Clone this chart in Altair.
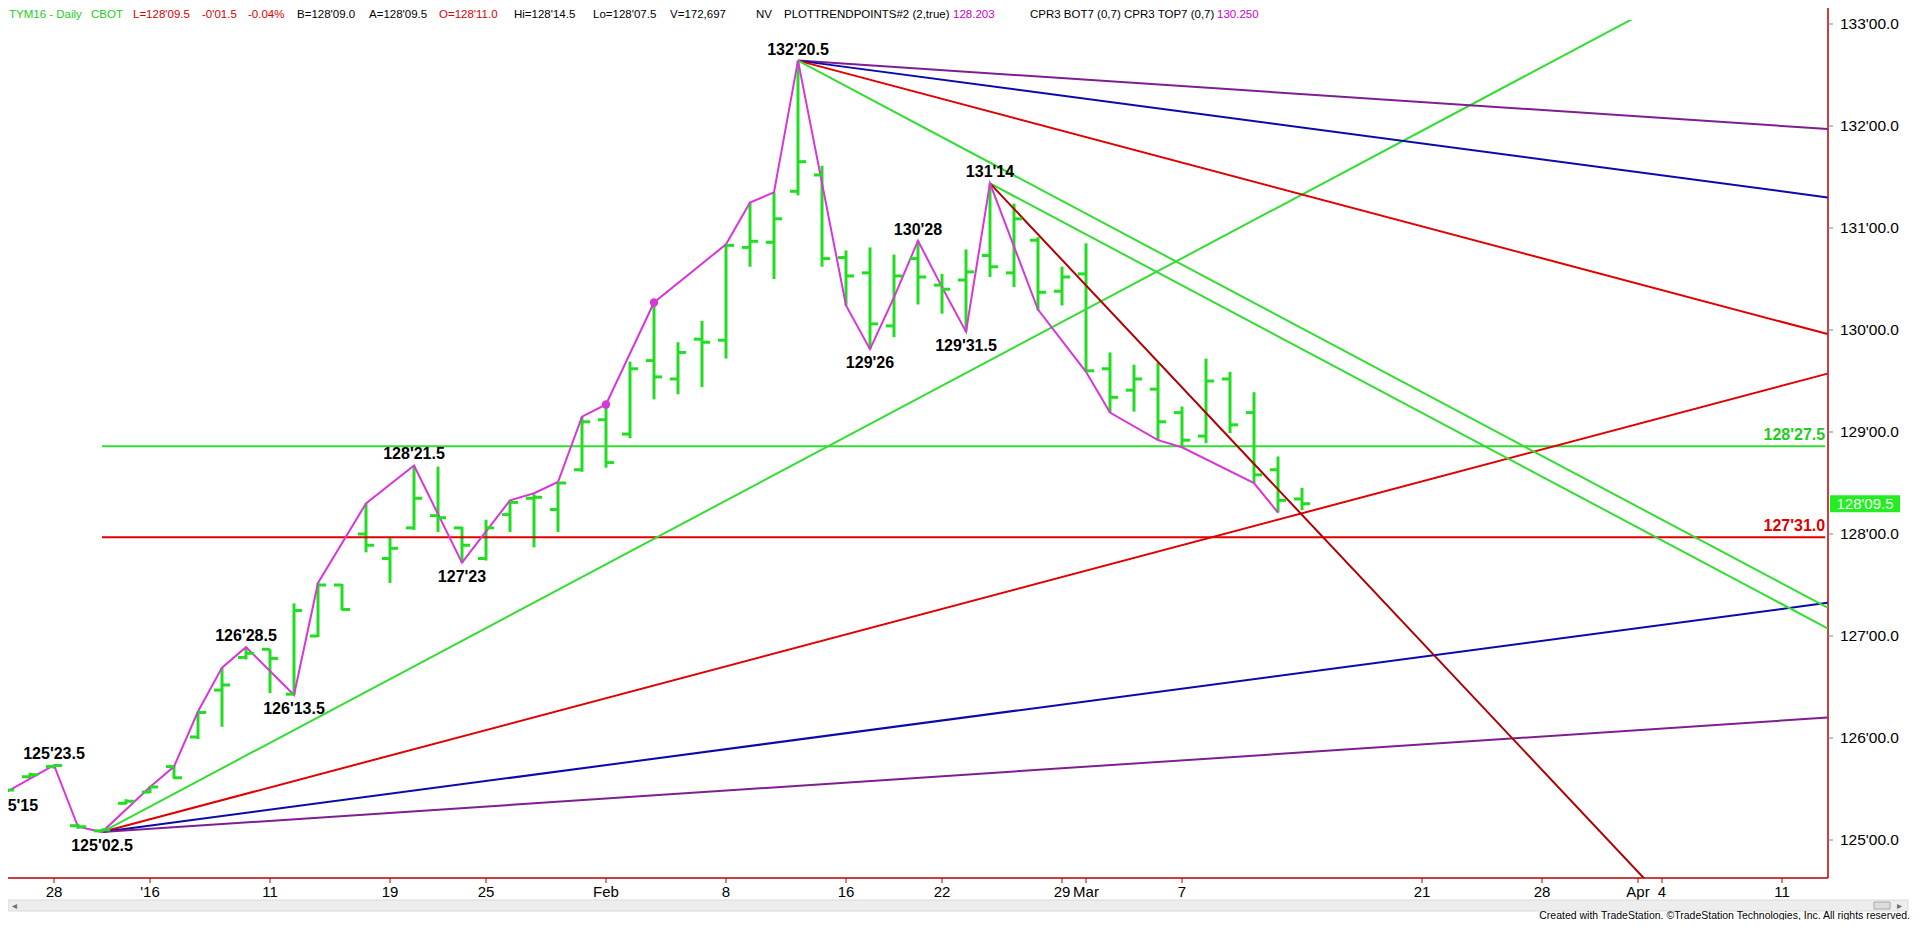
import altair as alt
import pandas as pd

# ---------------- data ----------------
# trading days; bar index 0 = 2015-12-28
dates = ["2015-12-23", "2015-12-24", "2015-12-28", "2015-12-29", "2015-12-30", "2015-12-31",
         "2016-01-04", "2016-01-05", "2016-01-06", "2016-01-07", "2016-01-08",
         "2016-01-11", "2016-01-12", "2016-01-13", "2016-01-14", "2016-01-15",
         "2016-01-19", "2016-01-20", "2016-01-21", "2016-01-22",
         "2016-01-25", "2016-01-26", "2016-01-27", "2016-01-28", "2016-01-29",
         "2016-02-01", "2016-02-02", "2016-02-03", "2016-02-04", "2016-02-05",
         "2016-02-08", "2016-02-09", "2016-02-10", "2016-02-11", "2016-02-12",
         "2016-02-16", "2016-02-17", "2016-02-18", "2016-02-19",
         "2016-02-22", "2016-02-23", "2016-02-24", "2016-02-25", "2016-02-26",
         "2016-02-29", "2016-03-01", "2016-03-02", "2016-03-03", "2016-03-04",
         "2016-03-07", "2016-03-08", "2016-03-09", "2016-03-10", "2016-03-11",
         "2016-03-14"]
first_index = -2

opens = [125.48, 125.62, 125.72, 125.14, 125.09, 125.36, 125.47, 125.72, 126.01, 126.47,
         126.79, 126.87, 126.43, 127.00, 127.50, 128.00, 127.76, 128.06, 128.18, 128.06,
         127.76, 128.19, 128.35, 128.24, 128.63, 129.12, 128.98, 129.70, 129.52, 129.91,
         129.90, 130.81, 130.86, 131.36, 131.52, 130.71, 130.56, 130.04, 130.70, 130.44,
         130.49, 130.73, 130.56, 130.88, 130.38, 130.55, 129.62, 129.41, 129.42, 129.19,
         128.96, 129.52, 129.19, 128.63, 128.34375]
highs = [125.51, 125.66, 125.734, 125.16, 125.11, 125.40, 125.53, 125.73, 126.26, 126.69,
         126.891, 126.87, 127.32, 127.52, 127.51, 128.30, 127.96, 128.672, 128.66, 128.07,
         128.14, 128.33, 128.39, 128.51, 129.15, 129.27, 129.69, 130.27, 129.88, 130.09,
         130.84, 131.25, 131.35, 132.641, 131.61, 130.78, 130.81, 130.74, 130.875, 130.55,
         130.79, 131.4375, 131.24, 130.91, 130.62, 130.85, 129.78, 129.66, 129.68, 129.25,
         129.72, 129.59, 129.39, 128.76, 128.453125]
lows = [125.469, 125.61, 125.70, 125.11, 125.078, 125.35, 125.46, 125.60, 125.99, 126.11,
        126.77, 126.44, 126.422, 126.99, 127.25, 127.82, 127.52, 128.04, 128.02, 127.719,
        127.74, 128.02, 127.87, 128.02, 128.61, 128.65, 128.94, 129.32, 129.37, 129.44,
        129.72, 130.62, 130.50, 131.32, 130.62, 130.24, 129.8125, 129.93, 130.25, 130.16,
        129.984, 130.52, 130.42, 130.19, 130.24, 129.59, 129.19, 129.20, 128.92, 128.85,
        128.89, 128.99, 128.50, 128.21, 128.234375]
closes = [125.49, 125.64, 125.73, 125.13, 125.10, 125.38, 125.52, 125.61, 126.25, 126.52,
          126.83, 126.78, 127.25, 127.50, 127.26, 127.89, 127.86, 128.35, 128.16, 127.89,
          128.06, 128.31, 128.36, 128.50, 129.10, 128.70, 129.62, 129.54, 129.78, 129.88,
          130.83, 130.87, 131.09, 131.65, 130.70, 130.53, 130.06, 130.53, 130.52, 130.40,
          130.57, 130.62, 131.09, 130.37, 130.52, 129.60, 129.34, 129.52, 129.10, 128.92,
          129.50, 129.07, 128.58, 128.33, 128.296875]

# swing (trend point) line
swing_idx = [-2, 0, 1, 2, 4, 5, 6, 7, 8, 10, 11, 13, 15, 17, 19, 20, 21, 22, 23, 25,
             28, 29, 30, 31, 33, 34, 35, 36, 37, 38, 39, 41, 43, 44, 46, 47, 50, 51]
swing_price = [125.469, 125.734, 125.13, 125.078, 125.52, 125.72, 126.26, 126.69, 126.891, 126.422,
               127.52, 128.30, 128.672, 127.719, 128.33, 128.40, 128.51, 129.15, 129.27, 130.27,
               130.84, 131.25, 131.35, 132.641, 130.24, 129.8125, 130.32, 130.875, 130.42, 129.984,
               131.4375, 130.20, 129.59, 129.19, 128.92, 128.85, 128.50, 128.21]
dot_idx = [23, 25]
dot_price = [129.27, 130.27]

# pivot labels
pivot_text = ["125'15", "125'23.5", "125'02.5", "126'28.5", "126'13.5", "128'21.5",
              "127'23", "132'20.5", "129'26", "130'28", "129'31.5", "131'14"]
pivot_idx = [-2, 0, 2, 8, 10, 15, 17, 31, 34, 36, 38, 39]
pivot_side = ["low", "high", "low", "high", "low", "high",
              "low", "high", "low", "high", "low", "high"]

# angle lines (start bar, start price, end bar, end price)
gann_from_idx = [2, 2, 2, 2, 31, 31, 31, 31, 39, 39]
gann_from_price = [125.078, 125.078, 125.078, 125.078, 132.641, 132.641, 132.641, 132.641, 131.4375, 131.4375]
gann_to_idx = [73.9, 73.9, 73.9, 73.9, 73.9, 73.9, 73.9, 73.9, 73.9, 73.9]
gann_to_price = [134.066, 129.572, 127.325, 126.201, 131.971, 131.300, 129.960, 127.278, 127.075, 122.7125]

# horizontal levels
level_text = ["128'27.5", "127'31.0"]
level_from_idx = [2, 2]
level_to_idx = [73.8, 73.8]

# axes
tick_idx = [0, 4, 9, 14, 18, 23, 28, 33, 37, 42, 43, 47, 57, 62, 66, 67, 72]
tick_text = ["28", "'16", "11", "19", "25", "Feb", "8", "16", "22", "29", "Mar", "7",
             "21", "28", "Apr", "4", "11"]
price_ticks = [125, 126, 127, 128, 129, 130, 131, 132, 133]

header_text = ["TYM16 - Daily", "CBOT", "L=128'09.5", "-0'01.5", "-0.04%", "B=128'09.0",
               "A=128'09.5", "O=128'11.0", "Hi=128'14.5", "Lo=128'07.5", "V=172,697", "NV",
               "PLOTTRENDPOINTS#2 (2,true)", "128.203", "CPR3 BOT7 (0,7)", "CPR3 TOP7 (0,7)",
               "130.250"]
footer_text = "Created with TradeStation. \u00a9TradeStation Technologies, Inc. All rights reserved."

# ---------------- styles / layout ----------------
BAR_GREEN = "#22DD22"
LINE_GREEN = "#33DD33"
RED = "#E00000"
DARK_RED = "#B00000"
BLUE = "#0A0AAA"
PURPLE = "#7F1F8F"
MAGENTA = "#D936D9"
AXIS_RED = "#B80000"
gann_color = [LINE_GREEN, RED, BLUE, PURPLE, PURPLE, BLUE, RED, LINE_GREEN, LINE_GREEN, DARK_RED]
level_color = ["#33DD33", RED]
level_text_color = ["#22CC22", "#DD0000"]
header_x_page = [9, 91, 133, 202, 248, 297, 369, 439, 514, 593, 670, 756, 784, 953, 1030, 1124, 1217]
header_color = ["#22CC22", "#22CC22", "#DD0000", "#DD0000", "#DD0000", "black", "black", "#DD0000",
                "black", "black", "black", "black", "black", "#CC00CC", "black", "black", "#CC00CC"]

SANS = "Liberation Sans, Arial, sans-serif"

W, H = 1820, 858
PAD = {"left": 0, "top": 12, "right": 84, "bottom": 42}
PX_BAR = 24.0
PX_PT = 102.0
X_LEFT = -46 / PX_BAR
X_RIGHT = X_LEFT + W / PX_BAR
Y_BOT = 125 - 38 / PX_PT
Y_TOP = Y_BOT + H / PX_PT


def from32(s):
    whole, frac = s.split("'")
    return int(whole) + float(frac) / 32.0


def to32(p):
    whole = int(p)
    frac = round((p - whole) * 64) / 2.0
    return f"{whole}'{frac:04.1f}"


def page_x_to_bar(px):
    return X_LEFT + (px - 8) / PX_BAR


bars = pd.DataFrame({
    "i": list(range(first_index, first_index + len(dates))),
    "date": dates, "o": opens, "h": highs, "l": lows, "c": closes,
})
swing = pd.DataFrame({"i": swing_idx, "p": swing_price})
dots = pd.DataFrame({"i": dot_idx, "p": dot_price})
pivots = pd.DataFrame({"i": pivot_idx, "t": pivot_text, "side": pivot_side,
                       "p": [from32(s) for s in pivot_text]})
gann = pd.DataFrame({"i0": gann_from_idx, "p0": gann_from_price, "i1": gann_to_idx,
                     "p1": gann_to_price, "col": gann_color})
levels = pd.DataFrame({"t": level_text, "p": [from32(s) for s in level_text],
                       "i0": level_from_idx, "i1": level_to_idx, "col": level_color,
                       "tcol": level_text_color})
last = pd.DataFrame({"c": [closes[-1]], "t": [to32(closes[-1])],
                     "x": [page_x_to_bar(1865)]})
header = pd.DataFrame({"t": header_text, "x": [page_x_to_bar(v) for v in header_x_page],
                       "col": header_color})
yticks = pd.DataFrame({"p": price_ticks, "t": [f"{p}'00.0" for p in price_ticks],
                       "x0": X_RIGHT, "x1": X_RIGHT + 5 / PX_BAR})
xticks = pd.DataFrame({"i": tick_idx, "t": tick_text, "y0": Y_BOT, "y1": Y_BOT - 5 / PX_PT})
frame = pd.DataFrame({"x0": [X_LEFT], "x1": [X_RIGHT], "y0": [Y_BOT], "y1": [Y_TOP]})
one = pd.DataFrame({"a": [0]})

xs = alt.Scale(domain=[X_LEFT, X_RIGHT], nice=False, zero=False)
ys = alt.Scale(domain=[Y_BOT, Y_TOP], nice=False, zero=False)
X = lambda f: alt.X(f, scale=xs, axis=None)
Y = lambda f: alt.Y(f, scale=ys, axis=None)

base = alt.Chart(bars)
hl = base.mark_rule(color=BAR_GREEN, strokeWidth=3).encode(x=X("i:Q"), y=Y("l:Q"), y2="h:Q")
op = base.transform_calculate(xa="datum.i - 0.34").mark_rule(color=BAR_GREEN, strokeWidth=3).encode(
    x=X("xa:Q"), x2="i:Q", y=Y("o:Q"))
cl = base.transform_calculate(xb="datum.i + 0.34").mark_rule(color=BAR_GREEN, strokeWidth=3).encode(
    x=X("i:Q"), x2="xb:Q", y=Y("c:Q"))

lev = alt.Chart(levels).mark_rule(strokeWidth=2).encode(
    x=X("i0:Q"), x2="i1:Q", y=Y("p:Q"), color=alt.Color("col:N", scale=None))
lev_txt = alt.Chart(levels).mark_text(align="right", baseline="bottom", dy=-3, fontSize=16,
                                      fontWeight="bold", font=SANS).encode(
    x=X("i1:Q"), y=Y("p:Q"), text="t:N", color=alt.Color("tcol:N", scale=None))

gl = alt.Chart(gann).mark_rule(strokeWidth=2, clip=True).encode(
    x=X("i0:Q"), x2="i1:Q", y=Y("p0:Q"), y2="p1:Q", color=alt.Color("col:N", scale=None))

sw = alt.Chart(swing).mark_line(color=MAGENTA, strokeWidth=2, clip=True).encode(
    x=X("i:Q"), y=Y("p:Q"), order="i:Q")
dt = alt.Chart(dots).mark_circle(color=MAGENTA, size=70, opacity=1).encode(x=X("i:Q"), y=Y("p:Q"))

pv_hi = alt.Chart(pivots).transform_filter("datum.side == 'high'").mark_text(
    baseline="middle", dy=-11, fontSize=16, fontWeight="bold", font=SANS, color="black").encode(
    x=X("i:Q"), y=Y("p:Q"), text="t:N")
pv_lo = alt.Chart(pivots).transform_filter("datum.side == 'low' && datum.i >= 0").mark_text(
    baseline="middle", dy=14, fontSize=16, fontWeight="bold", font=SANS, color="black").encode(
    x=X("i:Q"), y=Y("p:Q"), text="t:N")
pv_edge = alt.Chart(pivots).transform_filter("datum.side == 'low' && datum.i < 0").mark_text(
    baseline="middle", dy=14, dx=8, fontSize=16, fontWeight="bold", font=SANS, color="black",
    clip=True).encode(x=X("i:Q"), y=Y("p:Q"), text="t:N")

# axes drawn through the scales
right_dom = alt.Chart(frame).mark_rule(color=AXIS_RED, strokeWidth=1.5).encode(
    x=X("x1:Q"), y=Y("y0:Q"), y2="y1:Q")
bottom_dom = alt.Chart(frame).mark_rule(color=AXIS_RED, strokeWidth=1.5).encode(
    x=X("x0:Q"), x2="x1:Q", y=Y("y0:Q"))
ytick_m = alt.Chart(yticks).mark_rule(color="#808080", strokeWidth=1).encode(
    x=X("x0:Q"), x2="x1:Q", y=Y("p:Q"))
ytick_t = alt.Chart(yticks).mark_text(align="left", baseline="middle", dx=12, fontSize=15.5,
                                      font=SANS, color="black").encode(
    x=X("x0:Q"), y=Y("p:Q"), text="t:N")
xtick_m = alt.Chart(xticks).mark_rule(color=AXIS_RED, strokeWidth=1).encode(
    x=X("i:Q"), y=Y("y0:Q"), y2="y1:Q")
xtick_t = alt.Chart(xticks).mark_text(align="center", baseline="middle", dy=14, fontSize=15,
                                      font=SANS, color="black").encode(
    x=X("i:Q"), y=Y("y0:Q"), text="t:N")

box = alt.Chart(last).mark_tick(orient="horizontal", size=70, thickness=17, color="#22EE22", opacity=1).encode(
    x=X("x:Q"), y=Y("c:Q"))
box_txt = alt.Chart(last).mark_text(color="white", fontSize=15, font=SANS, baseline="middle").encode(
    x=X("x:Q"), y=Y("c:Q"), text="t:N")

hdr = alt.Chart(header).mark_text(align="left", baseline="middle", fontSize=11.5, font=SANS).encode(
    x=X("x:Q"), y=alt.value(-5.5), text="t:N", color=alt.Color("col:N", scale=None))

axis_ext = alt.Chart(one).mark_rule(color=AXIS_RED, strokeWidth=1.5).encode(
    x=alt.value(W), y=alt.value(-12), y2=alt.value(0))

scroll = alt.Chart(one).mark_rect(fill="#EDEDED", stroke="#DADADA").encode(
    x=alt.value(0), x2=alt.value(1900), y=alt.value(880), y2=alt.value(891))
thumb = alt.Chart(one).mark_rect(fill="#DCDCDC", stroke="#A8A8A8").encode(
    x=alt.value(1866), x2=alt.value(1882), y=alt.value(882), y2=alt.value(889))
arrow_l = alt.Chart(one).mark_text(fontSize=10, color="#707070", baseline="middle", text="\u25c2").encode(
    x=alt.value(6), y=alt.value(885.5))
arrow_r = alt.Chart(one).mark_text(fontSize=10, color="#707070", baseline="middle", text="\u25b8").encode(
    x=alt.value(1891), y=alt.value(885.5))
footer = alt.Chart(one).mark_text(align="right", baseline="middle", fontSize=10.5, font=SANS,
                                  color="black", text=footer_text).encode(
    x=alt.value(1902), y=alt.value(896))

chart = alt.layer(
    right_dom, bottom_dom, ytick_m, ytick_t, xtick_m, xtick_t,
    hl, lev, gl, sw, op, cl, dt, lev_txt, pv_hi, pv_lo, pv_edge, box, box_txt, hdr, axis_ext,
    scroll, thumb, arrow_l, arrow_r, footer,
).properties(
    width=W, height=H, background="white",
    autosize=alt.AutoSizeParams(type="none"),
    padding=PAD,
).configure_view(stroke=None)

chart.save("out.html", embed_options={"renderer": "svg", "actions": False})
